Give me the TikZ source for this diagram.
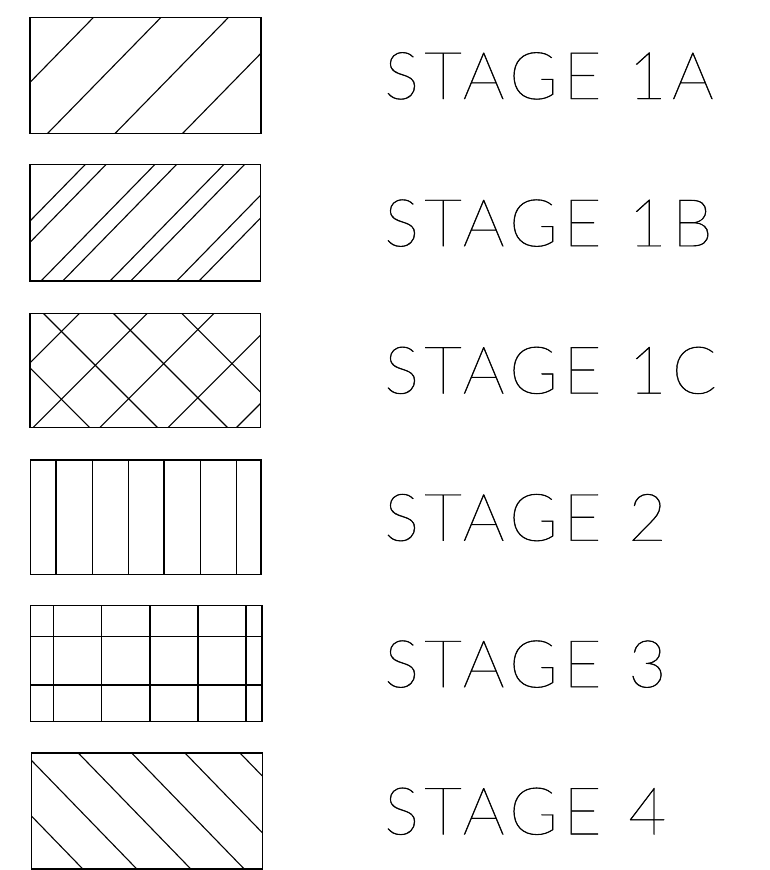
\documentclass[tikz,border=0pt]{standalone}
\usepackage{fontspec}
\newfontfamily\stagefont{Lato Thin}[LetterSpace=8,WordSpace=1.1,FakeBold=0.6]
\begin{document}
\begin{tikzpicture}[x=1pt,y=-1pt,
  stagebox/.style={draw, line width=1.2pt, inner sep=0pt, outer sep=0pt},
  hatch/.style={line width=1.1pt},
  stagelabel/.style={anchor=base west, inner sep=0pt, font=\stagefont\fontsize{66}{66}\selectfont}]
\useasboundingbox (0,0) rectangle (769,870);
% boxes
\node[stagebox, minimum width=231pt, minimum height=116pt] (b1) at (145.5,75.3) {};
\node[stagebox, minimum width=230.7pt, minimum height=116.7pt] (b2) at (145.35,222.65) {};
\node[stagebox, minimum width=230.7pt, minimum height=114pt] (b3) at (145.35,370.3) {};
\node[stagebox, minimum width=230.3pt, minimum height=114.3pt] (b4) at (145.85,517.15) {};
\node[stagebox, minimum width=231.3pt, minimum height=116pt] (b5) at (146.35,663.7) {};
\node[stagebox, minimum width=230.6pt, minimum height=116pt] (b6) at (147,811) {};
% stage 1A
\begin{scope}
\clip (b1.south west) rectangle (b1.north east);
\foreach \x in {-19.8,47.7,115.2,182.7}
  \draw[hatch] (\x,133.3) ++(-29.3,30) -- ++(185.7,-190);
\end{scope}
% stage 1B
\begin{scope}
\clip (b2.south west) rectangle (b2.north east);
\foreach \x in {-28.6,-7.8,41,62.7,110,130.7,176.7,199}
  \draw[hatch] (\x,281) ++(-29.3,30) -- ++(185.7,-190);
\end{scope}
% stage 1C
\begin{scope}
\clip (b3.south west) rectangle (b3.north east);
\foreach \x in {-34.5,33.3,100,168.3,236.7}
  \draw[hatch] (\x,427.3) ++(-30,30) -- ++(190,-190);
\foreach \x in {-24.5,43.3,113.3,181.7}
  \draw[hatch] (\x,313.3) ++(-30,-30) -- ++(190,190);
\end{scope}
% stage 2
\begin{scope}
\clip (b4.south west) rectangle (b4.north east);
\foreach \x in {56,92.3,128.3,164,200.7,236.7}
  \draw[hatch] (\x,440) -- (\x,600);
\end{scope}
% stage 3
\begin{scope}
\clip (b5.south west) rectangle (b5.north east);
\foreach \x in {53.3,101.7,150,198,246}
  \draw[hatch] (\x,590) -- (\x,740);
\foreach \y in {636.7,685}
  \draw[hatch] (20,\y) -- (280,\y);
\end{scope}
% stage 4
\begin{scope}
\clip (b6.south west) rectangle (b6.north east);
\foreach \x in {-29.7,24.3,78.3,131.7,185,240}
  \draw[hatch] (\x,753) ++(-29.1,-30) -- ++(184.3,190);
\end{scope}
% labels
\node[stagelabel] (t1) at (384,99) {STAGE 1A};
\node[stagelabel] (t2) at (384,246.2) {STAGE 1B};
\node[stagelabel] (t3) at (384,393.5) {STAGE 1C};
\node[stagelabel] (t4) at (384,540.7) {STAGE 2};
\node[stagelabel] (t5) at (384,687.2) {STAGE 3};
\node[stagelabel] (t6) at (384,834.4) {STAGE 4};
\end{tikzpicture}
\end{document}
